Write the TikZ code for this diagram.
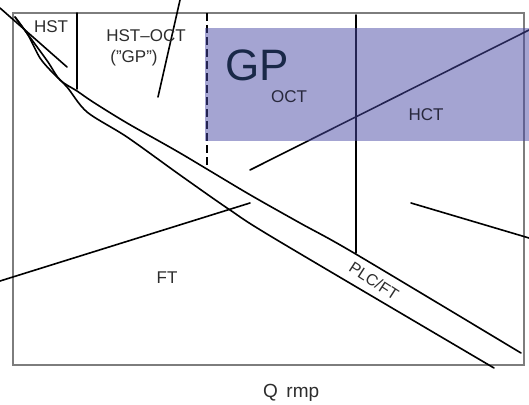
\documentclass[tikz,border=0pt]{standalone}
\usepackage{fontspec}
\setmainfont{Liberation Sans}
\begin{document}
\begin{tikzpicture}[x=1pt,y=-1pt,
  pen/.style={line width=1.6pt,black,line cap=round,line join=round},
  frameline/.style={line width=1.1pt,draw={rgb,255:red,125;green,125;blue,125}},
  lbl/.style={font=\fontsize{17}{17}\selectfont,text={rgb,255:red,45;green,45;blue,45},inner sep=0pt}]
\definecolor{zoneblue}{RGB}{73,73,165}
\definecolor{gpink}{RGB}{25,40,72}
\useasboundingbox (0,0) rectangle (529,404);
% plot frame
\draw[frameline] (13,13) rectangle (524,365);
% boundaries
\coordinate (hsttop) at (77,13);
\coordinate (hstbot) at (77,89);
\draw[pen] (hsttop) -- (hstbot);
\coordinate (diagA) at (0,8);
\coordinate (diagB) at (67,67);
\draw[pen] (diagA) -- (diagB);
\coordinate (octA) at (180,0);
\coordinate (octB) at (158,97);
\draw[pen] (octA) -- (octB);
\coordinate (dashA) at (207,13);
\coordinate (dashB) at (207,168);
\draw[pen,line cap=butt,dash pattern=on 8pt off 4pt] (dashA) -- (dashB);
\coordinate (hctA) at (356,15);
\coordinate (hctB) at (356,253);
\draw[pen] (hctA) -- (hctB);
% PLC/FT band
\draw[pen] plot[smooth,tension=0.5] coordinates {(15,17) (32,40) (48,62) (60,80) (77,91) (93,102) (127,123) (180,153) (247,193) (300,223) (354,253) (521,353)};
\draw[pen] plot[smooth,tension=0.5] coordinates {(15,17) (28,35) (40,58) (52,72) (67,87) (87,112) (127,137) (180,175) (230,210) (277,240) (494,368)};
% sloping lines
\coordinate (ftA) at (0,281);
\coordinate (ftB) at (250,203);
\draw[pen] (ftA) -- (ftB);
\coordinate (gpA) at (250,170);
\coordinate (gpB) at (529,30);
\draw[pen] (gpA) -- (gpB);
\coordinate (rtA) at (411,203);
\coordinate (rtB) at (529,238);
\draw[pen] (rtA) -- (rtB);
% shaded GP zone
\fill[zoneblue,opacity=0.5] (205,28) rectangle (529,141);
% labels
\node[lbl] (hst) at (51,27) {HST};
\node[lbl] (hstoct) at (146,36) {HST–OCT};
\node[lbl] (gpq) at (134,58) {("GP")};
\node[inner sep=0pt,text=gpink,font=\fontsize{44}{44}\selectfont] (gp) at (257,65) {GP};
\node[lbl,text={rgb,255:red,40;green,40;blue,60}] (oct) at (289,97) {OCT};
\node[lbl,text={rgb,255:red,40;green,40;blue,60}] (hct) at (426,115) {HCT};
\node[lbl] (ft) at (167,278) {FT};
\node[lbl,font=\fontsize{16}{16}\selectfont,rotate=-33] (plc) at (374,281) {PLC/FT};
\node[lbl,font=\fontsize{19}{19}\selectfont,anchor=base west] (q) at (263,397) {Q\, rmp};
\end{tikzpicture}
\end{document}
